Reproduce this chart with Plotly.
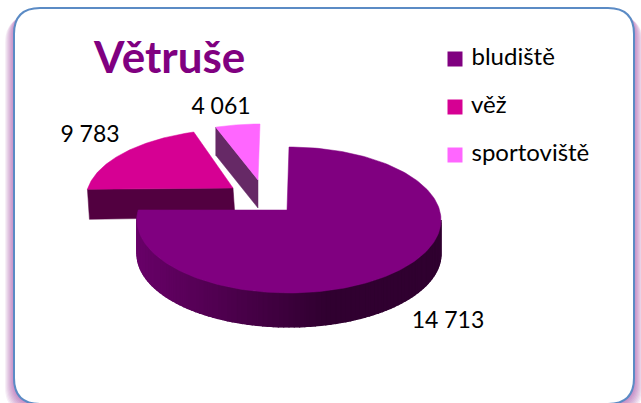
import math

import plotly.graph_objects as go

# slice shares as drawn in the picture (the printed labels do not match the drawn angles)
categories = ["bludiště", "věž", "sportoviště"]
drawn_shares = [77.2, 18.1, 4.7]
value_labels = ["14 713", "9 783", "4 061"]
title_text = "Větruše"

colors = ["#800080", "#D60093", "#FF66FF"]
wall_colors = [None, "#520040", "#662966"]

RX = 152
# ellipse centre, apex and wall depth per slice, in picture pixels
slice_geom = [
    dict(cx=289, cy=220, ry=73, ax=287, ay=210, depth=34),
    dict(cx=238, cy=199, ry=70, ax=233, ay=188, depth=29),
    dict(cx=260, cy=197, ry=73, ax=258, ay=180, depth=28),
]
label_pos = [(448, 322), (90, 136), (221, 108)]
legend_pos = [(455, 59), (455, 107), (455, 155)]
FONT = "Lato"


def rim(geom, deg):
    t = math.radians(deg)
    return geom["cx"] + RX * math.sin(t), geom["cy"] - geom["ry"] * math.cos(t)


def arc(geom, start, end, steps=80):
    return [rim(geom, start + (end - start) * i / steps) for i in range(steps + 1)]


def polygon(points, color, line_width=0.5):
    return go.Scatter(
        x=[p[0] for p in points] + [points[0][0]],
        y=[p[1] for p in points] + [points[0][1]],
        mode="lines",
        fill="toself",
        fillcolor=color,
        line=dict(color=color, width=line_width),
        hoverinfo="skip",
        showlegend=False,
    )


def shade(x):
    # side wall of the big slice darkens from left to right
    f = min(max((x - 140) / 190, 0), 1)
    return "rgb(%d,0,%d)" % (104 - 56 * f, 104 - 56 * f)


def rounded(x0, y0, x1, y1, r):
    return (
        f"M{x0 + r},{y0} L{x1 - r},{y0} Q{x1},{y0} {x1},{y0 + r} "
        f"L{x1},{y1 - r} Q{x1},{y1} {x1 - r},{y1} "
        f"L{x0 + r},{y1} Q{x0},{y1} {x0},{y1 - r} "
        f"L{x0},{y0 + r} Q{x0},{y0} {x0 + r},{y0} Z"
    )


angles = []
total = sum(drawn_shares)
running = 0
for share in drawn_shares:
    angles.append((running, running + 360 * share / total))
    running += 360 * share / total

fig = go.Figure()

# vez, exploded to the upper left
g = slice_geom[1]
start, end = angles[1]
left = rim(g, start)
fig.add_trace(polygon([left, (g["ax"], g["ay"]), (g["ax"] + 2, g["ay"] + g["depth"]),
                       (left[0] + 2, left[1] + g["depth"] + 1)], wall_colors[1]))
fig.add_trace(polygon([(g["ax"], g["ay"])] + arc(g, start, end), colors[1]))

# sportoviste
g = slice_geom[2]
start, end = angles[2]
left = rim(g, start)
fig.add_trace(polygon([left, (g["ax"], g["ay"]), (g["ax"], g["ay"] + g["depth"]),
                       (left[0], left[1] + g["depth"])], wall_colors[2]))
fig.add_trace(polygon([(g["ax"], g["ay"])] + arc(g, start, end), colors[2]))

# bludiste: dark underlay, wall in short strips for the gradient, then the top
g = slice_geom[0]
start, end = angles[0]
whole = arc(g, 90, end, 120)
fig.add_trace(polygon(whole + [(x, y + g["depth"]) for x, y in reversed(whole)], "#400040"))
deg = 90
while deg < end:
    top = arc(g, deg, min(deg + 2, end), 4)
    bottom = [(x, y + g["depth"]) for x, y in reversed(top)]
    fig.add_trace(polygon(top + bottom, shade(top[0][0]), 1.2))
    deg += 2
fig.add_trace(polygon([(g["ax"], g["ay"])] + arc(g, start, end, 200), colors[0]))

fig.add_trace(go.Scatter(
    x=[p[0] for p in label_pos],
    y=[p[1] for p in label_pos],
    mode="text",
    text=value_labels,
    textposition="middle center",
    textfont=dict(family=FONT, size=23, color="#000000"),
    hoverinfo="skip",
    showlegend=False,
))
fig.add_trace(go.Scatter(
    x=[p[0] for p in legend_pos],
    y=[p[1] for p in legend_pos],
    mode="markers+text",
    marker=dict(symbol="square", size=15, color=colors, line=dict(width=0)),
    text=[" " + c for c in categories],
    textposition="middle right",
    textfont=dict(family=FONT, size=24, color="#000000"),
    hoverinfo="skip",
    showlegend=False,
))

# soft purple shadow on the left, right and bottom of the card
shapes = []
for k in range(9, 0, -1):
    shapes.append(dict(type="path", path=rounded(14 - k, 8 + k, 634 + k, 404 + k, 26),
                       fillcolor="#8B1A8B", opacity=0.07, line=dict(width=0), layer="below"))
shapes.append(dict(type="path", path=rounded(14, 8, 634, 404, 26), fillcolor="#FFFFFF",
                   line=dict(color="#5B8BC5", width=2), layer="below"))

fig.update_layout(
    width=641,
    height=403,
    margin=dict(l=0, r=0, t=0, b=0),
    paper_bgcolor="#FFFFFF",
    plot_bgcolor="rgba(0,0,0,0)",
    xaxis=dict(range=[0, 641], visible=False, fixedrange=True),
    yaxis=dict(range=[403, 0], visible=False, fixedrange=True),
    shapes=shapes,
    annotations=[dict(
        x=169, y=56, xref="x", yref="y", text="<b>" + title_text + "</b>", showarrow=False,
        font=dict(family=FONT, size=44, color=colors[0]),
    )],
)

fig.write_html(
    "out.html",
    config=dict(displayModeBar=False),
    post_script="document.body.style.margin='0';document.body.style.overflow='hidden';",
)
